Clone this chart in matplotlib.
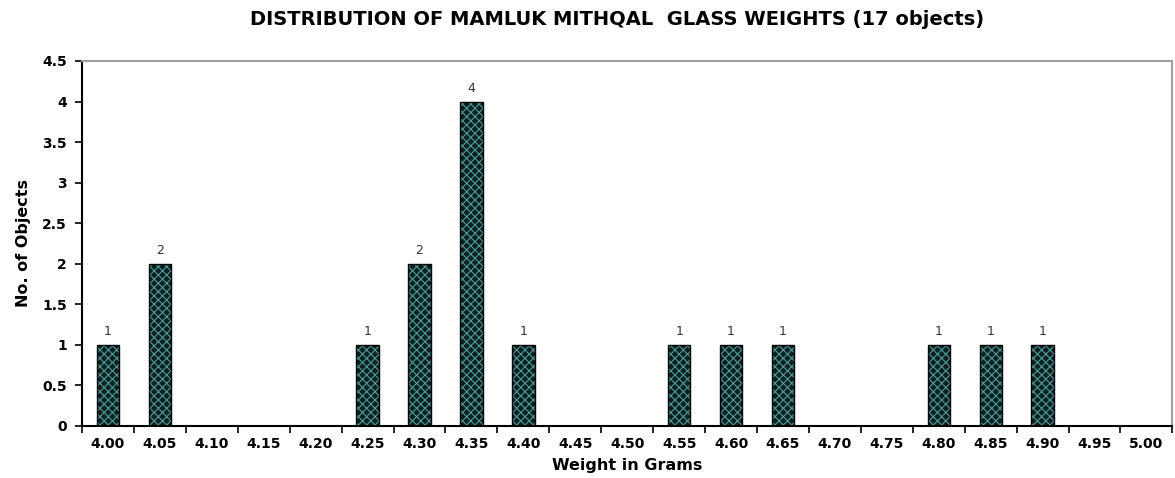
import numpy as np
import matplotlib.pyplot as plt

# Data
weights = ['4.00', '4.05', '4.10', '4.15', '4.20', '4.25', '4.30', '4.35',
           '4.40', '4.45', '4.50', '4.55', '4.60', '4.65', '4.70', '4.75',
           '4.80', '4.85', '4.90', '4.95', '5.00']
counts = [1, 2, 0, 0, 0, 1, 2, 4, 1, 0, 0, 1, 1, 1, 0, 0, 1, 1, 1, 0, 0]
yticks = [0, 0.5, 1, 1.5, 2, 2.5, 3, 3.5, 4, 4.5]
ytick_labels = ['0', '0.5', '1', '1.5', '2', '2.5', '3', '3.5', '4', '4.5']

plt.rcParams['font.family'] = 'DejaVu Sans'
plt.rcParams['hatch.linewidth'] = 0.8

fig = plt.figure(figsize=(11.75, 4.78), dpi=100)
ax = fig.add_axes([0.0698, 0.1088, 0.928, 0.7636])

x = np.arange(len(weights))
# Patterned fill, then a black outline on top
ax.bar(x, counts, width=0.43, color='#0b2020', edgecolor='#4f9a9a',
       hatch='xxxx', linewidth=0, zorder=2)
ax.bar(x, counts, width=0.43, fill=False, edgecolor='black',
       linewidth=1.0, zorder=3)

for xi, c in zip(x, counts):
    if c > 0:
        ax.text(xi, c + 0.08, str(c), ha='center', va='bottom',
                fontsize=9, color='#333333')

ax.set_xlim(-0.5, len(weights) - 0.5)
ax.set_ylim(0, 4.5)
ax.set_xticks(x)
ax.set_xticklabels(weights, fontsize=10, fontweight='bold')
ax.set_xticks(np.arange(-0.5, len(weights)), minor=True)
ax.tick_params(axis='x', which='major', length=0, pad=8)
ax.tick_params(axis='x', which='minor', length=5, width=1.2, direction='out')
ax.set_yticks(yticks)
ax.set_yticklabels(ytick_labels, fontsize=10, fontweight='bold')
ax.tick_params(axis='y', length=5, width=1.2, direction='out', pad=6)

for side in ['left', 'bottom']:
    ax.spines[side].set_linewidth(1.5)
    ax.spines[side].set_color('black')
for side in ['top', 'right']:
    ax.spines[side].set_linewidth(1.5)
    ax.spines[side].set_color('#a0a0a0')

ax.set_xlabel('Weight in Grams', fontsize=11.5, fontweight='bold', labelpad=5)
ax.set_ylabel('No. of Objects', fontsize=11.5, fontweight='bold', labelpad=8)
fig.suptitle('DISTRIBUTION OF MAMLUK MITHQAL  GLASS WEIGHTS (17 objects)',
             fontsize=14, fontweight='bold', x=0.525, y=0.98)

fig.savefig('out.png', dpi=100)
